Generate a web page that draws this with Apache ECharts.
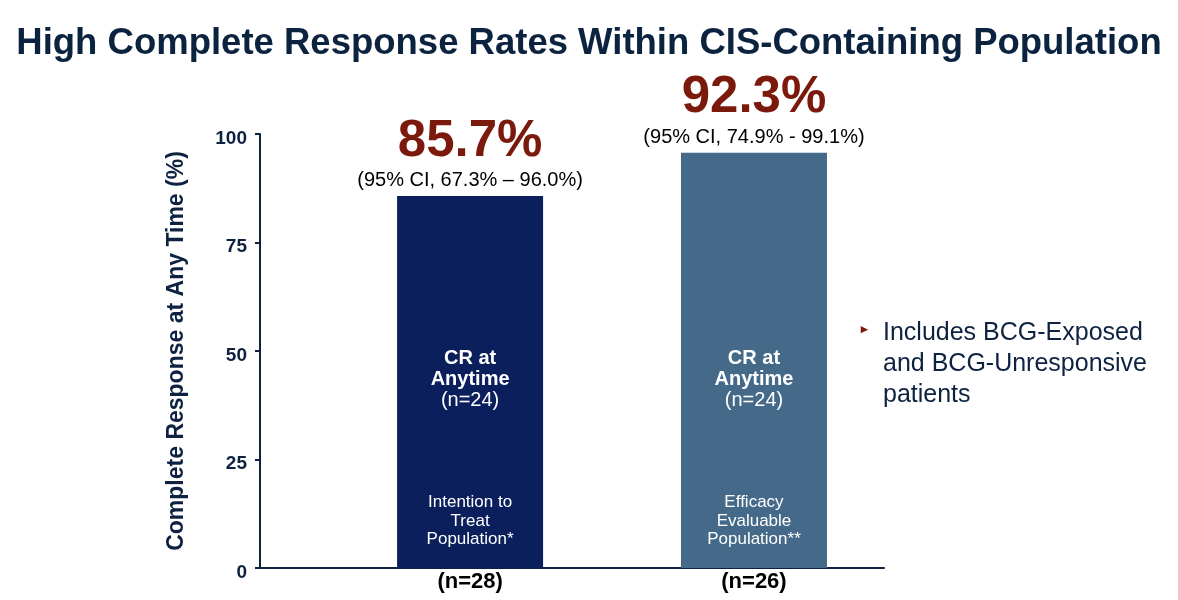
<!DOCTYPE html>
<html>
<head>
<meta charset="utf-8">
<script src="https://cdn.jsdelivr.net/npm/echarts@6/dist/echarts.min.js"></script>
<style>
  html, body { margin: 0; padding: 0; background: #fff; }
  #main { width: 1178px; height: 600px; }
</style>
</head>
<body>
<div id="main"></div>
<script>
// data
var groups = ['Intention to Treat Population*', 'Efficacy Evaluable Population**'];
var barPos = [1, 2];
var barHeights = [85.7, 95.7];
var rateLabels = ['85.7%', '92.3%'];
var ciLabels = ['(95% CI, 67.3% \u2013 96.0%)', '(95% CI, 74.9% - 99.1%)'];
var crCounts = ['(n=24)', '(n=24)'];
var popLines = [['Intention to', 'Treat', 'Population*'], ['Efficacy', 'Evaluable', 'Population**']];
var nLabels = ['(n=28)', '(n=26)'];
var barColors = ['#0b1f5c', '#456a89'];

var font = '"Liberation Sans", Arial, sans-serif';
var navy = '#0d2240';

var barData = barHeights.map(function (v, i) {
  return { value: [barPos[i], v], itemStyle: { color: barColors[i] }, idx: i };
});
var topData = barHeights.map(function (v, i) { return { value: [barPos[i], v], idx: i }; });
var baseData = barPos.map(function (x, i) { return { value: [x, 0], idx: i }; });

var chart = echarts.init(document.getElementById('main'));
chart.setOption({
  backgroundColor: '#fff',
  animation: false,
  textStyle: { fontFamily: font },
  title: [
    {
      text: 'High Complete Response Rates Within CIS-Containing Population',
      left: 'center', top: 20,
      textStyle: { fontFamily: font, fontSize: 36.5, fontWeight: 'bold', color: '#0c2340' }
    },
    {
      text: '\u25B8', left: 856, top: 318,
      textStyle: { fontFamily: font, fontSize: 13, color: '#7b1a0c' }
    },
    {
      text: 'Includes BCG-Exposed\nand BCG-Unresponsive\npatients',
      left: 878, top: 313,
      textStyle: { fontFamily: font, fontSize: 25, lineHeight: 31, fontWeight: 'normal', color: navy }
    }
  ],
  grid: { left: 260, right: 294, top: 134, bottom: 32 },
  xAxis: {
    type: 'value', min: 0.26, max: 2.458,
    axisLine: { show: true, onZero: false, lineStyle: { color: navy, width: 2 } },
    axisTick: { show: false }, axisLabel: { show: false }, splitLine: { show: false }
  },
  yAxis: {
    type: 'value', min: 0, max: 100, interval: 25,
    name: 'Complete Response at Any Time (%)',
    nameLocation: 'middle', nameGap: 72, nameRotate: 90,
    nameTextStyle: { fontFamily: font, fontSize: 23, fontWeight: 'bold', color: navy },
    axisLine: { show: true, lineStyle: { color: navy, width: 2 } },
    axisTick: { show: true, length: 5, lineStyle: { color: navy, width: 2 } },
    axisLabel: { margin: 13, verticalAlign: 'top', lineHeight: 9, fontFamily: font, fontSize: 19, fontWeight: 'bold', color: navy },
    splitLine: { show: false }
  },
  series: [
    {
      type: 'bar', barWidth: 146, data: barData, silent: true,
      label: {
        show: true, position: 'insideBottom', distance: 19, align: 'center',
        formatter: function (p) {
          var i = p.data.idx;
          return '{b|CR at}\n{b|Anytime}\n{n|' + crCounts[i] + '}\n{gap|}\n' +
            popLines[i].map(function (s) { return '{p|' + s + '}'; }).join('\n');
        },
        rich: {
          b: { fontFamily: font, fontSize: 20, fontWeight: 'bold', color: '#fff', lineHeight: 21, align: 'center' },
          n: { fontFamily: font, fontSize: 20, color: '#fff', lineHeight: 21, align: 'center' },
          gap: { lineHeight: 83 },
          p: { fontFamily: font, fontSize: 17, color: '#fff', lineHeight: 18.5, align: 'center' }
        }
      }
    },
    {
      type: 'scatter', data: topData, symbolSize: 1, silent: true,
      itemStyle: { color: 'transparent', opacity: 1 },
      label: {
        show: true, position: 'top', distance: 4, align: 'center',
        formatter: function (p) {
          var i = p.data.idx;
          return '{r|' + rateLabels[i] + '}\n{c|' + ciLabels[i] + '}';
        },
        rich: {
          r: { fontFamily: font, fontSize: 51, fontWeight: 'bold', color: '#7b1a0c', lineHeight: 56, align: 'center' },
          c: { fontFamily: font, fontSize: 20, color: '#000', lineHeight: 22, align: 'center' }
        }
      }
    },
    {
      type: 'scatter', data: baseData, symbolSize: 1, silent: true,
      itemStyle: { color: 'transparent', opacity: 1 },
      label: {
        show: true, position: 'bottom', distance: 2,
        formatter: function (p) { return nLabels[p.data.idx]; },
        fontFamily: font, fontSize: 22, fontWeight: 'bold', color: '#000', lineHeight: 22
      }
    }
  ]
});
</script>
</body>
</html>
